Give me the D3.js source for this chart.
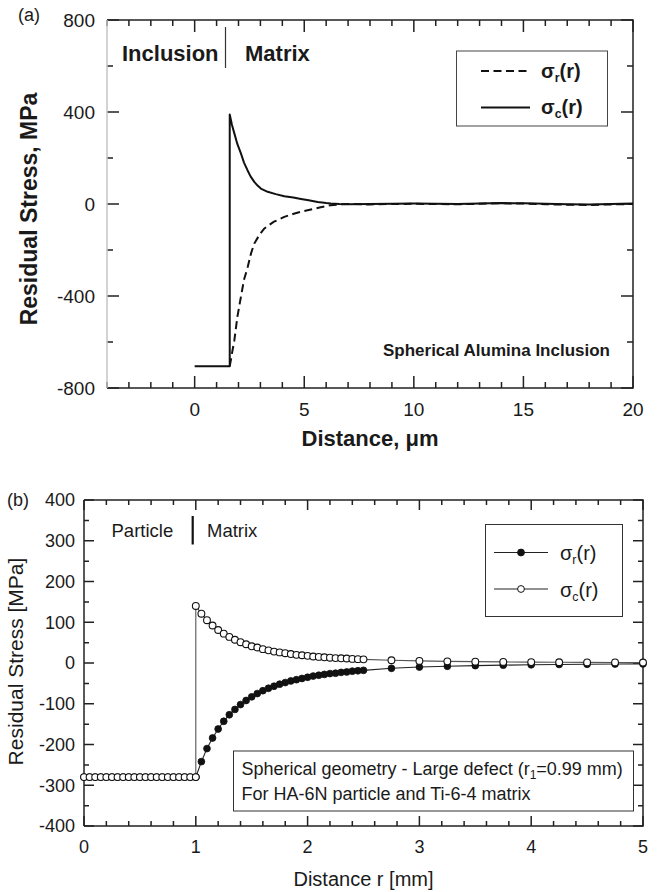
<!DOCTYPE html>
<html>
<head>
<meta charset="utf-8">
<script src="https://cdn.jsdelivr.net/npm/d3@7"></script>
<style>
  body { margin: 0; background: #fff; }
  svg { display: block; font-family: "Liberation Sans", Arial, sans-serif; }
</style>
</head>
<body>
<svg id="chart" width="659" height="892"></svg>
<script>
// panel (a): spherical alumina inclusion, distance in um
var aCircX = [0, 1.6, 1.6, 1.7, 1.81, 1.95, 2.11, 2.25, 2.41, 2.55, 2.72, 2.87, 3.02, 3.33, 3.7, 4.09, 4.5, 4.85, 5.2, 5.61, 6.0, 6.21, 6.6, 7, 8, 9, 10, 11, 12, 13, 14, 15, 16, 17, 18, 19, 20];
var aCircY = [-705, -705, 389, 345, 307, 260, 220, 180, 147, 120, 96, 80, 67, 53, 43, 34, 28, 22, 16, 9, 4, 2, 0, -1, 0, 1, 2, 1, 0, 2, 4, 3, 1, -1, -2, 0, 2];
var aRadX = [1.6, 1.65, 1.72, 1.81, 1.95, 2.11, 2.25, 2.42, 2.57, 2.72, 2.95, 3.17, 3.6, 4.09, 4.6, 5.15, 5.7, 6.2, 6.6, 7, 8, 9, 10, 11, 12, 13, 14, 15, 16, 17, 18, 19, 20];
var aRadY = [-705, -680, -640, -593, -490, -404, -330, -274, -215, -172, -135, -107, -78, -56, -40, -27, -15, -5, -2, 0, -2, 0, 1, 0, -1, 1, 3, 2, -1, -3, -4, -2, 0];
var aXTicks = [0, 5, 10, 15, 20];
var aYTicks = [-800, -400, 0, 400, 800];

// panel (b): HA-6N particle in Ti-6-4, distance in mm
var bX = [0, 0.05, 0.1, 0.15, 0.2, 0.25, 0.3, 0.35, 0.4, 0.45, 0.5, 0.55, 0.6, 0.65, 0.7, 0.75, 0.8, 0.85, 0.9, 0.95, 1.0,
          1.0, 1.05, 1.1, 1.15, 1.2, 1.25, 1.3, 1.35, 1.4, 1.45, 1.5, 1.55, 1.6, 1.65, 1.7, 1.75, 1.8, 1.85, 1.9, 1.95, 2.0,
          2.05, 2.1, 2.15, 2.2, 2.25, 2.3, 2.35, 2.4, 2.45, 2.5, 2.75, 3.0, 3.25, 3.5, 3.75, 4.0, 4.25, 4.5, 4.75, 5.0];
var bSigR = [-280, -280, -280, -280, -280, -280, -280, -280, -280, -280, -280, -280, -280, -280, -280, -280, -280, -280, -280, -280, -280,
             -280, -242, -210, -184, -162, -143, -127, -114, -102, -92, -83, -75, -68, -62, -57, -52, -48, -44, -41, -38, -35,
             -32, -30, -28, -26, -25, -23, -22, -20, -19, -18, -13, -10, -8, -6.5, -5.3, -4.4, -3.6, -3.1, -2.6, -2.2];
var bSigC = [-280, -280, -280, -280, -280, -280, -280, -280, -280, -280, -280, -280, -280, -280, -280, -280, -280, -280, -280, -280, -280,
             140, 121, 105, 92, 81, 72, 64, 57, 51, 46, 41, 38, 34, 31, 28, 26, 24, 22, 20, 19, 17.5,
             16, 15, 14, 13, 12, 11.5, 11, 10, 9.5, 9, 6.7, 5.2, 4.1, 3.3, 2.7, 2.2, 1.8, 1.5, 1.3, 1.1];
var bXTicks = [0, 1, 2, 3, 4, 5];
var bYTicks = [-400, -300, -200, -100, 0, 100, 200, 300, 400];

var svg = d3.select('#chart');

var toPoints = function (xs, ys) {
  return xs.map(function (x, i) { return [x, ys[i]]; });
};

var steps = function (a, b, step) {
  return d3.range(Math.round((b - a) / step) + 1).map(function (i) { return +(a + i * step).toFixed(4); });
};

// frame with inward ticks on all four sides
var drawFrame = function (g, x, y, opt) {
  var L = x.range()[0], R = x.range()[1], T = y.range()[1], B = y.range()[0];

  var xt = opt.xMinor.map(function (v) { return { v: v, len: opt.minor }; })
    .concat(opt.xTicks.map(function (v) { return { v: v, len: opt.major }; }));
  var yt = opt.yMinor.map(function (v) { return { v: v, len: opt.minor }; })
    .concat(opt.yTicks.map(function (v) { return { v: v, len: opt.major }; }));

  var segs = [];
  xt.forEach(function (d) {
    var px = x(d.v);
    segs.push(`M${px},${B}V${B - d.len}`);
    segs.push(`M${px},${T}V${T + d.len}`);
  });
  yt.forEach(function (d) {
    var py = y(d.v);
    segs.push(`M${L},${py}H${L + d.len}`);
    segs.push(`M${R},${py}H${R - d.len}`);
  });
  g.append('path')
   .attr('d', segs.join(''))
   .attr('fill', 'none').attr('stroke', '#222').attr('stroke-width', 1.5);

  g.append('g').selectAll('text').data(opt.xTicks).enter().append('text')
    .attr('x', function (d) { return x(d); }).attr('y', B + opt.xPad)
    .attr('text-anchor', 'middle').attr('font-size', opt.tickFont).attr('fill', '#1a1a1a')
    .text(function (d) { return String(d); });
  g.append('g').selectAll('text').data(opt.yTicks).enter().append('text')
    .attr('x', L - opt.yPad).attr('y', function (d) { return y(d); }).attr('dy', '0.36em')
    .attr('text-anchor', 'end').attr('font-size', opt.tickFont).attr('fill', '#1a1a1a')
    .text(function (d) { return String(d); });

  g.append('path')
   .attr('d', `M${L},${T}H${R}V${B}H${L}`)
   .attr('fill', 'none').attr('stroke', '#222').attr('stroke-width', 1.5);
  g.append('line')
   .attr('x1', L).attr('x2', L).attr('y1', T).attr('y2', B)
   .attr('stroke', opt.leftSpine).attr('stroke-width', 1.5);
};

var sigmaLabel = function (t, sub, size) {
  t.append('tspan').text('σ');
  t.append('tspan').text(sub).attr('font-size', size * 0.62).attr('dy', size * 0.22);
  t.append('tspan').text('(r)').attr('dy', -size * 0.22);
};

/* ---------------- panel (a) ---------------- */
var ax = d3.scaleLinear().domain([-4, 20]).range([107, 633]);
var ay = d3.scaleLinear().domain([-800, 800]).range([388, 20]);
var ga = svg.append('g');

drawFrame(ga, ax, ay, {
  xTicks: aXTicks, xMinor: steps(-4, 20, 1), yTicks: aYTicks, yMinor: steps(-800, 800, 200),
  major: 12, minor: 6, xPad: 28, yPad: 12, tickFont: 19, leftSpine: '#c4c4c4'
});

var lineA = d3.line().x(function (d) { return ax(d[0]); }).y(function (d) { return ay(d[1]); });

ga.append('path')
  .attr('d', lineA(toPoints(aRadX, aRadY)))
  .attr('fill', 'none').attr('stroke', '#111').attr('stroke-width', 2)
  .attr('stroke-dasharray', '8,4.5');
ga.append('path')
  .attr('d', lineA(toPoints(aCircX, aCircY)))
  .attr('fill', 'none').attr('stroke', '#111').attr('stroke-width', 2)
  .attr('stroke-linejoin', 'round');

ga.append('text').attr('x', 122).attr('y', 61)
  .attr('font-size', 22).attr('font-weight', 'bold').attr('fill', '#1a1a1a').text('Inclusion');
ga.append('line').attr('x1', 225.5).attr('x2', 225.5).attr('y1', 27).attr('y2', 68)
  .attr('stroke', '#333').attr('stroke-width', 1.2);
ga.append('text').attr('x', 245).attr('y', 61)
  .attr('font-size', 22).attr('font-weight', 'bold').attr('fill', '#1a1a1a').text('Matrix');

ga.append('text').attr('x', 610).attr('y', 356).attr('text-anchor', 'end')
  .attr('font-size', 17).attr('font-weight', 'bold').attr('fill', '#1a1a1a')
  .text('Spherical Alumina Inclusion');

// legend (a)
ga.append('rect').attr('x', 456.5).attr('y', 51).attr('width', 151).attr('height', 75)
  .attr('fill', '#fff').attr('stroke', '#444').attr('stroke-width', 1);
ga.append('line').attr('x1', 481).attr('x2', 530).attr('y1', 71).attr('y2', 71)
  .attr('stroke', '#111').attr('stroke-width', 2).attr('stroke-dasharray', '8,4.5');
ga.append('line').attr('x1', 481).attr('x2', 530).attr('y1', 107.5).attr('y2', 107.5)
  .attr('stroke', '#111').attr('stroke-width', 2);
sigmaLabel(ga.append('text').attr('x', 541).attr('y', 78).attr('font-size', 20)
  .attr('font-weight', 'bold').attr('fill', '#1a1a1a'), 'r', 20);
sigmaLabel(ga.append('text').attr('x', 541).attr('y', 114).attr('font-size', 20)
  .attr('font-weight', 'bold').attr('fill', '#1a1a1a'), 'c', 20);

ga.append('text').attr('x', 370).attr('y', 446).attr('text-anchor', 'middle')
  .attr('font-size', 22).attr('font-weight', 'bold').attr('fill', '#1a1a1a').text('Distance, μm');
ga.append('text').attr('transform', 'translate(36.5,209) rotate(-90)').attr('text-anchor', 'middle')
  .attr('font-size', 23).attr('font-weight', 'bold').attr('fill', '#1a1a1a').text('Residual Stress, MPa');
ga.append('text').attr('x', 18).attr('y', 21).attr('font-size', 18).attr('fill', '#1a1a1a').text('(a)');

/* ---------------- panel (b) ---------------- */
var bx = d3.scaleLinear().domain([0, 5]).range([84, 643]);
var by = d3.scaleLinear().domain([-400, 400]).range([826, 500]);
var gb = svg.append('g');

drawFrame(gb, bx, by, {
  xTicks: bXTicks, xMinor: steps(0, 5, 0.2), yTicks: bYTicks, yMinor: steps(-400, 400, 50),
  major: 10, minor: 5, xPad: 27, yPad: 9, tickFont: 18, leftSpine: '#222'
});

var lineB = d3.line().x(function (d) { return bx(d[0]); }).y(function (d) { return by(d[1]); });
var ptsR = toPoints(bX, bSigR);
var ptsC = toPoints(bX, bSigC);

gb.append('path').attr('d', lineB(ptsR))
  .attr('fill', 'none').attr('stroke', '#222').attr('stroke-width', 1.1);
gb.append('path').attr('d', lineB(ptsC))
  .attr('fill', 'none').attr('stroke', '#555').attr('stroke-width', 1.1);

gb.append('g').selectAll('circle').data(ptsR).enter().append('circle')
  .attr('cx', function (d) { return bx(d[0]); })
  .attr('cy', function (d) { return by(d[1]); })
  .attr('r', 3.4).attr('fill', '#111').attr('stroke', '#111').attr('stroke-width', 0.8);
gb.append('g').selectAll('circle').data(ptsC).enter().append('circle')
  .attr('cx', function (d) { return bx(d[0]); })
  .attr('cy', function (d) { return by(d[1]); })
  .attr('r', 3.4).attr('fill', '#fff').attr('stroke', '#111').attr('stroke-width', 1.1);

gb.append('text').attr('x', 111.5).attr('y', 537).attr('font-size', 18.5).attr('fill', '#1a1a1a').text('Particle');
gb.append('line').attr('x1', 192.7).attr('x2', 192.7).attr('y1', 516).attr('y2', 544.5)
  .attr('stroke', '#111').attr('stroke-width', 2.2);
gb.append('text').attr('x', 207).attr('y', 537).attr('font-size', 18.5).attr('fill', '#1a1a1a').text('Matrix');

// legend (b)
gb.append('rect').attr('x', 485.5).attr('y', 524.5).attr('width', 137).attr('height', 92)
  .attr('fill', '#fff').attr('stroke', '#333').attr('stroke-width', 1);
gb.append('line').attr('x1', 494).attr('x2', 548).attr('y1', 552.5).attr('y2', 552.5)
  .attr('stroke', '#222').attr('stroke-width', 1.1);
gb.append('circle').attr('cx', 521).attr('cy', 552.5).attr('r', 3.4).attr('fill', '#111').attr('stroke', '#111');
gb.append('line').attr('x1', 494).attr('x2', 548).attr('y1', 589).attr('y2', 589)
  .attr('stroke', '#222').attr('stroke-width', 1.1);
gb.append('circle').attr('cx', 521).attr('cy', 589).attr('r', 3.4).attr('fill', '#fff').attr('stroke', '#111');
sigmaLabel(gb.append('text').attr('x', 560).attr('y', 560).attr('font-size', 20).attr('fill', '#1a1a1a'), 'r', 20);
sigmaLabel(gb.append('text').attr('x', 560).attr('y', 596.5).attr('font-size', 20).attr('fill', '#1a1a1a'), 'c', 20);

// annotation box
gb.append('rect').attr('x', 233.5).attr('y', 751).attr('width', 400).attr('height', 60)
  .attr('fill', '#fff').attr('stroke', '#333').attr('stroke-width', 1);
var ann = gb.append('text').attr('x', 241.5).attr('y', 775).attr('font-size', 18).attr('fill', '#1a1a1a');
ann.append('tspan').text('Spherical geometry - Large defect (r');
ann.append('tspan').text('1').attr('font-size', 12).attr('dy', 4);
ann.append('tspan').text('=0.99 mm)').attr('dy', -4);
gb.append('text').attr('x', 241.5).attr('y', 800).attr('font-size', 18).attr('fill', '#1a1a1a')
  .text('For HA-6N particle and Ti-6-4 matrix');

gb.append('text').attr('x', 363.5).attr('y', 886).attr('text-anchor', 'middle')
  .attr('font-size', 20).attr('fill', '#1a1a1a').text('Distance r [mm]');
gb.append('text').attr('transform', 'translate(23,661.5) rotate(-90)').attr('text-anchor', 'middle')
  .attr('font-size', 21).attr('fill', '#1a1a1a').text('Residual Stress [MPa]');
gb.append('text').attr('x', 7).attr('y', 506).attr('font-size', 18).attr('fill', '#1a1a1a').text('(b)');
</script>
</body>
</html>
